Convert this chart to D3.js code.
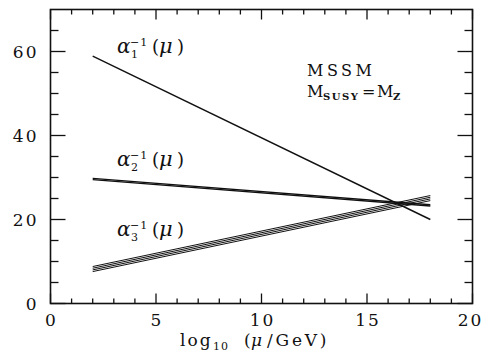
<!DOCTYPE html>
<html>
<head>
<meta charset="utf-8">
<script src="https://cdn.jsdelivr.net/npm/d3@7"></script>
<style>
  html, body { margin: 0; padding: 0; background: #fff; }
  svg { display: block; }
  text { font-family: "DejaVu Serif", "Liberation Serif", serif; fill: #111; }
</style>
</head>
<body>
<svg id="chart" width="483" height="358"></svg>
<script>
// Running inverse gauge couplings in the MSSM (M_SUSY = M_Z)
const muLog = [2, 18];                      // log10(mu/GeV) range of the curves
const alphaInv1 = [58.9, 20.0];             // alpha_1^-1 at the two ends
const alphaInv2 = [[29.8, 23.5], [29.5, 23.2]];   // alpha_2^-1 band
const alphaInv3 = [[8.8, 25.7], [8.4, 25.3], [8.0, 24.9], [7.6, 24.5]]; // alpha_3^-1 band
const xTickLabels = [0, 5, 10, 15, 20];
const yTickLabels = [0, 20, 40, 60];

const W = 483, H = 358;
const margin = { left: 50.5, right: 10.5, top: 9.5, bottom: 54.5 };
const svg = d3.select("#chart");

const x = d3.scaleLinear().domain([0, 20]).range([margin.left, W - margin.right]);
const y = d3.scaleLinear().domain([0, 70]).range([H - margin.bottom, margin.top]);

const ink = "#111";

// frame
svg.append("rect")
  .attr("x", x(0)).attr("y", y(70))
  .attr("width", x(20) - x(0)).attr("height", y(0) - y(70))
  .attr("fill", "none").attr("stroke", ink).attr("stroke-width", 1.6);

// inward ticks on all four sides
const xMinor = d3.range(0, 21, 1);
const yMinor = d3.range(0, 70, 5);
const g = svg.append("g").attr("stroke", ink).attr("stroke-width", 1.3);
xMinor.forEach(v => {
  const len = v % 5 === 0 ? 10 : 5;
  g.append("line").attr("x1", x(v)).attr("x2", x(v)).attr("y1", y(0)).attr("y2", y(0) - len);
  g.append("line").attr("x1", x(v)).attr("x2", x(v)).attr("y1", y(70)).attr("y2", y(70) + len);
});
yMinor.forEach(v => {
  const len = v % 20 === 0 ? 15 : 8;
  g.append("line").attr("y1", y(v)).attr("y2", y(v)).attr("x1", x(0)).attr("x2", x(0) + len);
  g.append("line").attr("y1", y(v)).attr("y2", y(v)).attr("x1", x(20)).attr("x2", x(20) - len);
});

// tick labels
svg.selectAll(".xl").data(xTickLabels).join("text")
  .attr("x", d => d === 20 ? x(d) - 2 : x(d) + 1).attr("y", y(0) + 22)
  .attr("text-anchor", "middle")
  .style("font-size", "17px").style("letter-spacing", "2px")
  .text(d => d);
svg.selectAll(".yl").data(yTickLabels).join("text")
  .attr("x", x(0) - 12).attr("y", d => y(d) + 6)
  .attr("text-anchor", "end")
  .style("font-size", "17px").style("letter-spacing", "2px")
  .text(d => d);

// axis title: log10 (mu/GeV)
const title = svg.append("text").attr("y", 346).style("font-size", "17px");
title.append("tspan").attr("x", 180).style("letter-spacing", "2px").text("log");
title.append("tspan").attr("x", 213).attr("dy", 4).style("font-size", "11px").style("letter-spacing", "1px").text("10");
title.append("tspan").attr("x", 244).attr("dy", -4).text("(");
title.append("tspan").attr("x", 251).style("font-style", "italic").text("μ");
title.append("tspan").attr("x", 267).style("letter-spacing", "2.8px").text("/GeV)");

// curves
const line = d3.line().x(d => x(d[0])).y(d => y(d[1]));
const pts = vals => muLog.map((m, i) => [m, vals[i]]);

svg.append("path").attr("d", line(pts(alphaInv1)))
  .attr("fill", "none").attr("stroke", ink).attr("stroke-width", 1.4);
alphaInv2.forEach(v => svg.append("path").attr("d", line(pts(v)))
  .attr("fill", "none").attr("stroke", ink).attr("stroke-width", 1.4));
alphaInv3.forEach(v => svg.append("path").attr("d", line(pts(v)))
  .attr("fill", "none").attr("stroke", ink).attr("stroke-width", 1.0));

// curve labels: alpha_i^{-1}(mu)
function alphaLabel(px, py, idx) {
  const t = svg.append("g").attr("transform", `translate(${px},${py})`);
  t.append("text").attr("x", 0).attr("y", 0).style("font-size", "20px").style("font-style", "italic").text("α");
  t.append("text").attr("x", 13).attr("y", -7).style("font-size", "11px").style("letter-spacing", "1px").text("−1");
  t.append("text").attr("x", 14).attr("y", 5).style("font-size", "11px").text(idx);
  t.append("text").attr("x", 35).attr("y", 0).style("font-size", "18px").text("(");
  t.append("text").attr("x", 42).attr("y", 0).style("font-size", "21px").style("font-style", "italic").text("μ");
  t.append("text").attr("x", 60).attr("y", 0).style("font-size", "18px").text(")");
}
alphaLabel(117, 53, "1");
alphaLabel(117, 166, "2");
alphaLabel(117, 236, "3");

// model annotation
svg.append("text").attr("x", 307).attr("y", 76)
  .style("font-size", "16px").attr("textLength", 65).attr("lengthAdjust", "spacing")
  .text("MSSM");
const ann = svg.append("text").attr("y", 97).style("font-size", "16px");
ann.append("tspan").attr("x", 307).text("M");
ann.append("tspan").attr("x", 323).attr("dy", 3).style("font-size", "10px").style("font-weight", "bold").style("letter-spacing", "1.5px").text("SUSY");
ann.append("tspan").attr("x", 362).attr("dy", -3).text("=");
ann.append("tspan").attr("x", 377).text("M");
ann.append("tspan").attr("x", 393).attr("dy", 3).style("font-size", "10px").style("font-weight", "bold").text("Z");
</script>
</body>
</html>
